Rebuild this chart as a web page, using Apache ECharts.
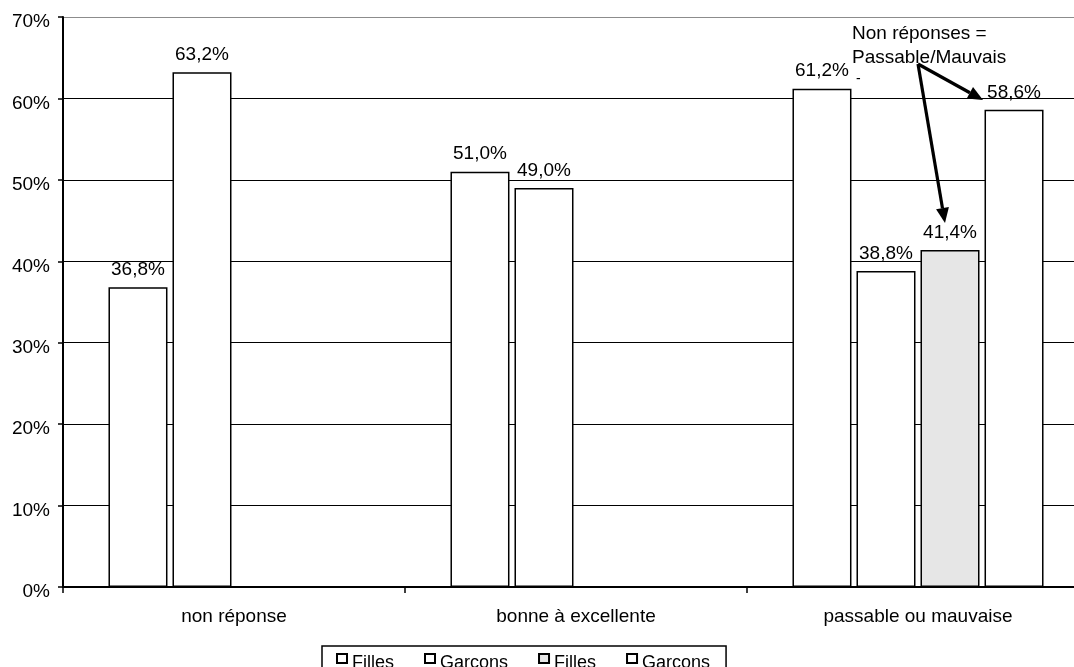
<!DOCTYPE html>
<html>
<head>
<meta charset="utf-8">
<script src="https://cdn.jsdelivr.net/npm/echarts@6/dist/echarts.min.js"></script>
<style>
html,body{margin:0;padding:0;background:#fff;}
#c{width:1074px;height:667px;}
</style>
</head>
<body>
<div id="c"></div>
<script>
var categories = ['non réponse', 'bonne à excellente', 'passable ou mauvaise'];
var filles = [36.8, 51.0, 61.2];
var garcons = [63.2, 49.0, 38.8];
var filles2 = [null, null, 41.4];
var garcons2 = [null, null, 58.6];
var seriesNames = ['Filles', 'Garcons', 'Filles (2)', 'Garcons (2)'];
var yTicks = [0, 10, 20, 30, 40, 50, 60, 70];

var FONT = "'Liberation Sans', Arial, sans-serif";
var chart = echarts.init(document.getElementById('c'), null, {renderer: 'canvas'});

function barSeries(name, data, fill) {
  return {
    type: 'bar',
    name: name,
    data: data,
    barWidth: 59,
    barGap: '8.5%',
    itemStyle: {color: fill, borderColor: '#000', borderWidth: 1.5},
    label: {
      show: true,
      position: 'top',
      distance: 8,
      color: '#000',
      fontFamily: FONT,
      fontSize: 19,
      formatter: function (p) { return p.value.toFixed(1).replace('.', ',') + '%'; }
    }
  };
}

var splitColors = yTicks.map(function (v, i) { return i === yTicks.length - 1 ? '#8c8c8c' : '#000'; });

var option = {
  animation: false,
  backgroundColor: '#fff',
  grid: {left: 63, right: -15, top: 17, bottom: 80, containLabel: false, outerBoundsMode: 'none'},
  legend: {
    left: 322,
    top: 646,
    orient: 'horizontal',
    icon: 'rect',
    itemWidth: 10,
    itemHeight: 9,
    itemGap: 30,
    padding: [7, 16, 5, 14],
    borderColor: '#000',
    borderWidth: 1.5,
    backgroundColor: '#fff',
    data: seriesNames,
    formatter: function (n) { return '{t|' + n.replace(' (2)', '') + '}'; },
    textStyle: {
      fontFamily: FONT, fontSize: 18, color: '#000',
      rich: {t: {fontFamily: FONT, fontSize: 18, color: '#000', padding: [10, 0, 0, 0]}}
    }
  },
  xAxis: {
    type: 'category',
    data: categories,
    axisLine: {lineStyle: {color: '#000', width: 2}},
    axisTick: {show: true, length: 6, lineStyle: {color: '#000', width: 1.5}},
    axisLabel: {color: '#000', fontFamily: FONT, fontSize: 19, margin: 20}
  },
  yAxis: {
    type: 'value',
    min: yTicks[0],
    max: yTicks[yTicks.length - 1],
    interval: 10,
    axisLine: {show: true, lineStyle: {color: '#000', width: 2}},
    axisTick: {show: true, length: 5, lineStyle: {color: '#000', width: 1.5}},
    axisLabel: {color: '#000', fontFamily: FONT, fontSize: 19, margin: 13, verticalAlign: 'top', lineHeight: 10, formatter: '{value}%'},
    splitLine: {show: true, lineStyle: {color: splitColors, width: 1.2}}
  },
  series: [
    barSeries(seriesNames[0], filles, '#ffffff'),
    barSeries(seriesNames[1], garcons, '#ffffff'),
    barSeries(seriesNames[2], filles2, '#e6e6e6'),
    barSeries(seriesNames[3], garcons2, '#ffffff')
  ]
};
chart.setOption(option);

// Annotation (callout text + arrows)
function arrow(x1, y1, x2, y2) {
  var dx = x2 - x1, dy = y2 - y1, L = Math.sqrt(dx * dx + dy * dy);
  var ux = dx / L, uy = dy / L, hl = 15, hw = 6.5;
  var bx = x2 - ux * hl, by = y2 - uy * hl;
  return [
    {type: 'line', shape: {x1: x1, y1: y1, x2: bx, y2: by}, style: {stroke: '#000', lineWidth: 3.2}, z: 100},
    {type: 'polygon', shape: {points: [[x2, y2], [bx - uy * hw, by + ux * hw], [bx + uy * hw, by - ux * hw]]}, style: {fill: '#000'}, z: 100}
  ];
}
var g = [
  {type: 'text', x: 852, y: 22, z: 100, style: {text: 'Non réponses =\nPassable/Mauvais', fontFamily: FONT, fontSize: 19, lineHeight: 24, fill: '#000', verticalAlign: 'top', align: 'left'}},
  {type: 'text', x: 856, y: 72, z: 100, style: {text: '-', fontFamily: FONT, fontSize: 14, fill: '#000', verticalAlign: 'top'}}
];
g = g.concat(arrow(918, 64, 983, 100)).concat(arrow(918, 64, 945, 223));
chart.setOption({graphic: g});
</script>
</body>
</html>
